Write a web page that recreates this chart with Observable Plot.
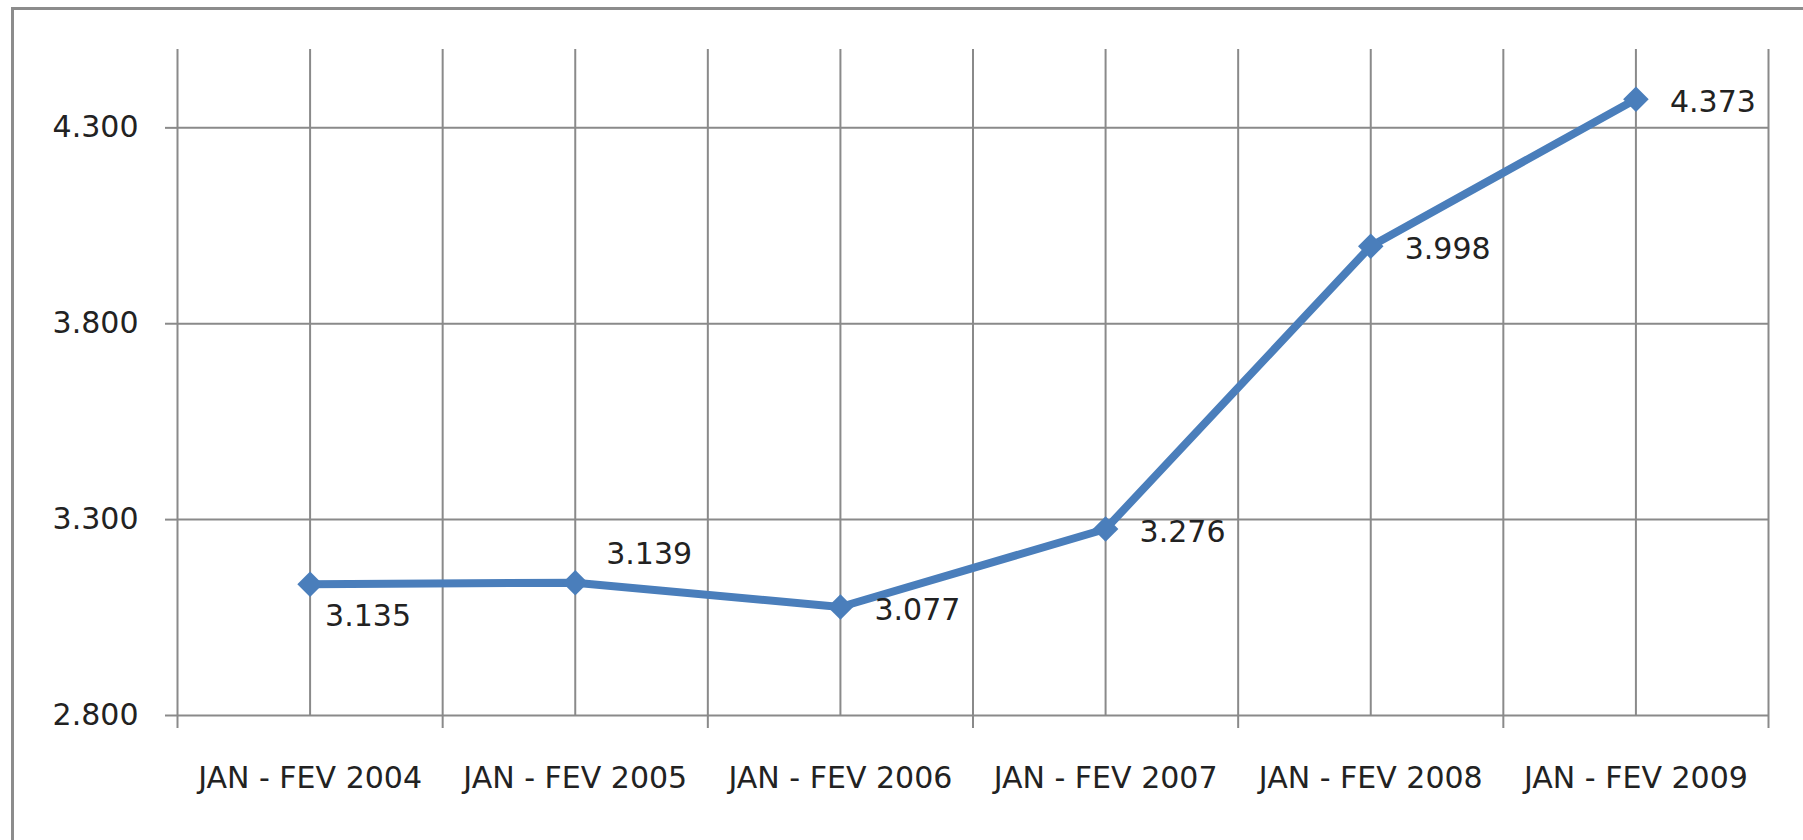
<!DOCTYPE html>
<html>
<head>
<meta charset="utf-8">
<script src="https://cdn.jsdelivr.net/npm/d3@7"></script>
<script src="https://cdn.jsdelivr.net/npm/@observablehq/plot@0.6"></script>
<style>
  html, body { margin: 0; padding: 0; background: #fff; }
  #wrap { position: relative; width: 1803px; height: 840px; overflow: hidden; }
  #frame { position: absolute; left: 11px; top: 7px; right: -10px; bottom: -10px;
           border-top: 3px solid #8c8c8c; border-left: 3px solid #8c8c8c; pointer-events: none; }
</style>
</head>
<body>
<div id="wrap"><div id="frame"></div></div>
<script>
// ---- data ----
const categories = ["JAN - FEV 2004", "JAN - FEV 2005", "JAN - FEV 2006", "JAN - FEV 2007", "JAN - FEV 2008", "JAN - FEV 2009"];
const values = [3135, 3139, 3077, 3276, 3998, 4373];
const yTicks = [2800, 3300, 3800, 4300];
const yDomain = [2800, 4500];

// ---- helpers ----
const locale = d3.formatLocale({decimal: ",", thousands: ".", grouping: [3], currency: ["R$", ""]});
const fmt = locale.format(",");
const data = categories.map((c, i) => ({c, i, pos: i + 0.5, v: values[i]}));
const boundaries = d3.range(categories.length + 1);
const centers = data.map(d => d.pos);
const gridColor = "#8a8a8a";
const blue = "#4A7EBB";
const font = "DejaVu Sans, sans-serif";

const chart = Plot.plot({
  width: 1803,
  height: 840,
  marginLeft: 177,
  marginRight: 35,
  marginTop: 49,
  marginBottom: 125,
  style: {fontFamily: font, fontSize: "30px", color: "#222", background: "transparent"},
  x: {type: "linear", domain: [0, categories.length], axis: null},
  y: {domain: yDomain, axis: null},
  marks: [
    // vertical gridlines at category boundaries and centres
    Plot.ruleX(boundaries.concat(centers), {y1: yDomain[0], y2: yDomain[1], stroke: gridColor, strokeWidth: 2}),
    // horizontal gridlines
    Plot.ruleY(yTicks, {x1: 0, x2: categories.length, stroke: gridColor, strokeWidth: 2}),
    // y axis ticks and labels
    Plot.axisY(yTicks, {anchor: "left", label: null, tickSize: 12, tickPadding: 27, tickFormat: fmt,
      stroke: gridColor, strokeWidth: 2, fontSize: 30, fill: "#222"}),
    // x axis boundary ticks
    Plot.axisX(boundaries, {anchor: "bottom", label: null, tickSize: 13, tickFormat: () => "", stroke: gridColor, strokeWidth: 2}),
    // x category labels
    Plot.text(data, {x: "pos", y: () => yDomain[0], text: "c", lineAnchor: "top", dy: 51, fontSize: 30, fill: "#222"}),
    // series line
    Plot.line(data, {x: "pos", y: "v", stroke: blue, strokeWidth: 8, strokeLinejoin: "round"}),
    Plot.dot(data, {x: "pos", y: "v", symbol: "diamond2", r: 11.5, fill: blue, stroke: null}),
    // data labels
    Plot.text(data.filter(d => d.i === 0), {x: "pos", y: "v", text: d => fmt(d.v), textAnchor: "start", dx: 15, dy: 32, fontSize: 30, fill: "#222"}),
    Plot.text(data.filter(d => d.i === 1), {x: "pos", y: "v", text: d => fmt(d.v), textAnchor: "start", dx: 31, dy: -28, fontSize: 30, fill: "#222"}),
    Plot.text(data.filter(d => d.i >= 2), {x: "pos", y: "v", text: d => fmt(d.v), textAnchor: "start", dx: 34, dy: 3, fontSize: 30, fill: "#222"})
  ]
});
chart.style.position = "absolute";
chart.style.left = "0";
chart.style.top = "0";
document.getElementById("wrap").prepend(chart);
</script>
</body>
</html>
